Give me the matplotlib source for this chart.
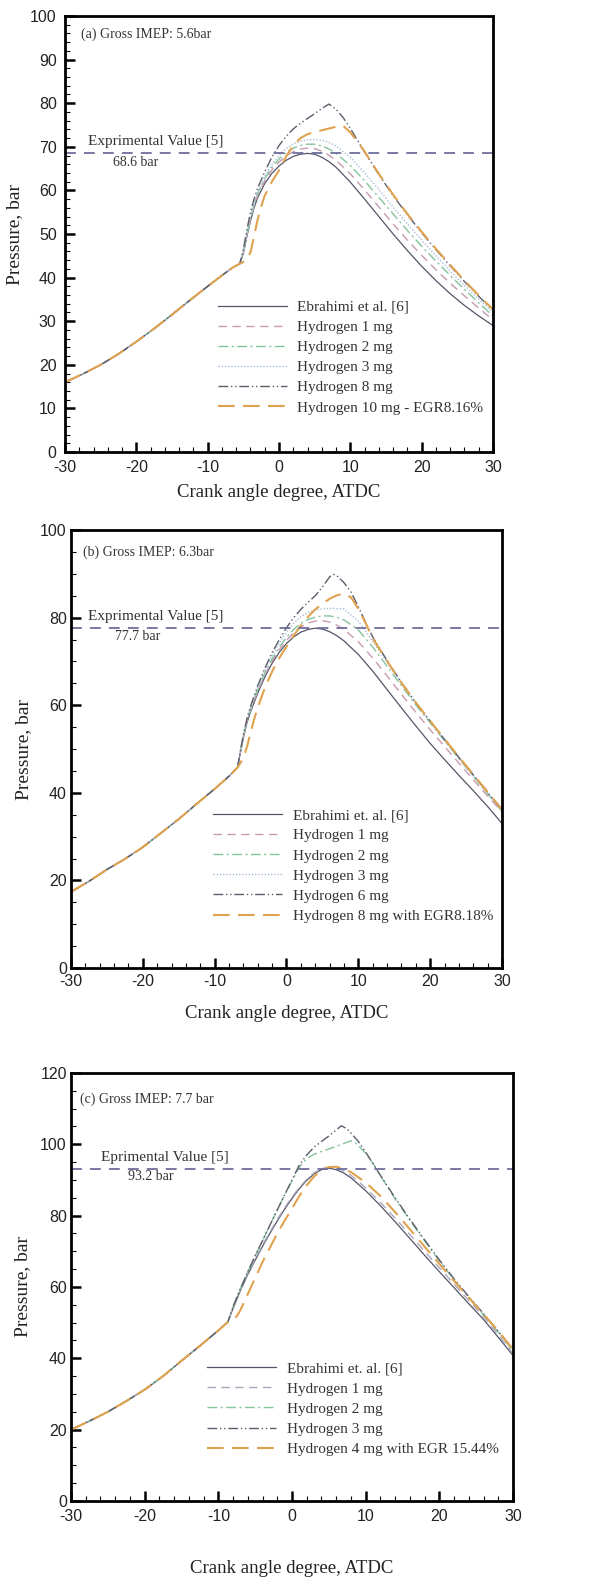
import matplotlib
matplotlib.use("Agg")
import matplotlib.pyplot as plt
from matplotlib.ticker import MultipleLocator

plt.rcParams["axes.unicode_minus"] = False

# ---------------- DATA ----------------
# Panel (a)  Gross IMEP 5.6 bar
comp_a_x = [-30, -27.5, -25, -22.5, -20, -17.5, -15, -12.5, -10, -8, -6.5, -5.5]
comp_a_p = [16.0, 17.9, 20.0, 22.5, 25.3, 28.3, 31.5, 34.8, 38.0, 40.5, 42.3, 43.2]
a_x = [-5, -4.5, -4, -3.5, -3, -2, -1, 0, 1, 2, 3, 4, 5, 6, 7, 8, 10, 12, 14, 16, 18, 20, 22, 24, 26, 28, 30]
ebr_a_p = [45.5, 49.5, 53.0, 56.0, 58.3, 61.6, 63.9, 65.6, 66.9, 67.8, 68.3, 68.5, 68.3, 67.6, 66.6, 65.3, 61.9, 58.0, 54.0, 50.0, 46.2, 42.6, 39.3, 36.3, 33.6, 31.2, 29.0]
h1_a_p = [45.6, 49.7, 53.3, 56.4, 58.8, 62.2, 64.7, 66.5, 67.9, 68.9, 69.5, 69.7, 69.6, 69.0, 68.1, 66.9, 63.8, 60.1, 56.2, 52.3, 48.6, 45.1, 41.8, 38.7, 35.8, 33.0, 30.3]
h2_a_p = [45.7, 49.9, 53.5, 56.7, 59.2, 62.7, 65.3, 67.2, 68.7, 69.7, 70.3, 70.6, 70.6, 70.2, 69.5, 68.5, 65.7, 62.2, 58.4, 54.6, 50.8, 47.2, 43.8, 40.5, 37.3, 34.2, 31.2]
h3_a_p = [45.8, 50.1, 53.8, 57.0, 59.6, 63.2, 65.9, 68.0, 69.6, 70.7, 71.3, 71.6, 71.7, 71.5, 71.0, 70.2, 67.6, 64.0, 60.2, 56.2, 52.3, 48.6, 45.0, 41.5, 38.2, 35.0, 32.0]
h8_a_x = [-5, -4.5, -4, -3.5, -3, -2, -1, 0, 1, 2, 3, 4, 5, 6, 7, 8, 9, 10, 11, 12, 14, 16, 18, 20, 22, 24, 26, 28, 30]
h8_a_p = [46.5, 51.0, 55.0, 58.0, 60.5, 64.3, 67.6, 70.3, 72.4, 74.1, 75.4, 76.5, 77.6, 78.8, 79.8, 78.6, 76.7, 74.2, 71.5, 68.8, 63.6, 58.8, 54.4, 50.3, 46.4, 42.7, 39.1, 35.7, 32.5]
egr_a_x = [-5, -4.5, -4, -3.5, -3, -2.5, -2, -1, 0, 1, 2, 3, 4, 5, 6, 7, 8, 9, 10, 11, 12, 14, 16, 18, 20, 22, 24, 26, 28, 30]
egr_a_p = [43.6, 44.2, 45.8, 49.5, 53.3, 56.3, 58.8, 62.0, 64.6, 67.8, 70.3, 72.0, 72.9, 73.4, 73.8, 74.2, 74.6, 74.8, 73.3, 71.2, 68.9, 63.8, 59.0, 54.6, 50.5, 46.6, 42.9, 39.3, 35.9, 32.7]
labels_a = ["Ebrahimi et al. [6]", "Hydrogen 1 mg", "Hydrogen 2 mg", "Hydrogen 3 mg",
            "Hydrogen 8 mg", "Hydrogen 10 mg - EGR8.16%"]
exp_a = 68.6

# Panel (b)  Gross IMEP 6.3 bar
comp_b_x = [-30, -27.5, -25, -22.5, -20, -17.5, -15, -12.5, -10, -8, -6.8]
comp_b_p = [17.4, 19.8, 22.5, 24.9, 27.6, 30.8, 34.0, 37.5, 40.9, 43.8, 45.8]
b_x = [-6.5, -6, -5.5, -5, -4, -3, -2, -1, 0, 1, 2, 3, 4, 5, 6, 7, 8, 10, 12, 14, 16, 18, 20, 22, 24, 26, 28, 30]
ebr_b_p = [48.5, 52.5, 56.0, 58.5, 62.8, 66.5, 69.6, 72.1, 74.1, 75.6, 76.7, 77.3, 77.6, 77.4, 76.8, 75.9, 74.7, 71.6, 67.8, 63.6, 59.4, 55.3, 51.3, 47.6, 44.0, 40.5, 36.9, 33.0]
h1_b_p = [48.6, 52.7, 56.3, 58.9, 63.3, 67.0, 70.1, 72.7, 74.8, 76.6, 77.9, 78.8, 79.2, 79.3, 79.0, 78.3, 77.3, 74.5, 70.8, 66.7, 62.5, 58.4, 54.4, 50.6, 46.8, 43.0, 39.3, 35.6]
h2_b_p = [48.7, 52.8, 56.5, 59.1, 63.6, 67.4, 70.6, 73.3, 75.5, 77.3, 78.7, 79.6, 80.1, 80.4, 80.4, 80.1, 79.5, 77.2, 73.3, 68.9, 64.5, 60.1, 56.0, 51.9, 47.8, 43.8, 39.8, 35.8]
h3_b_p = [48.8, 53.0, 56.7, 59.4, 64.0, 67.9, 71.3, 74.2, 76.7, 78.7, 80.2, 81.2, 81.7, 82.0, 82.1, 82.1, 82.0, 79.2, 74.6, 69.8, 65.0, 60.5, 56.2, 52.0, 47.9, 43.9, 39.9, 35.9]
h6_b_x = [-6.5, -6, -5.5, -5, -4, -3, -2, -1, 0, 1, 2, 3, 4, 5, 6, 6.5, 7, 8, 9, 10, 11, 12, 14, 16, 18, 20, 22, 24, 26, 28, 30]
h6_b_p = [48.9, 53.3, 57.0, 59.8, 64.5, 68.5, 72.0, 75.0, 77.7, 80.0, 81.9, 83.5, 85.0, 87.0, 89.3, 89.9, 89.6, 88.0, 85.8, 82.5, 79.0, 75.6, 70.2, 65.2, 60.6, 56.4, 52.2, 48.1, 44.1, 40.1, 36.1]
egr_b_x = [-6.5, -6, -5.5, -5, -4.5, -4, -3, -2, -1, 0, 1, 2, 3, 4, 5, 6, 7, 8, 9, 10, 11, 12, 14, 16, 18, 20, 22, 24, 26, 28, 30]
egr_b_p = [46.6, 48.0, 50.5, 53.8, 56.8, 59.5, 64.0, 67.7, 70.8, 73.4, 75.9, 78.2, 80.2, 81.9, 83.2, 84.3, 85.1, 85.5, 84.6, 82.0, 78.8, 75.3, 70.1, 65.1, 60.6, 56.4, 52.3, 48.2, 44.2, 40.2, 36.2]
labels_b = ["Ebrahimi et. al. [6]", "Hydrogen 1 mg", "Hydrogen 2 mg", "Hydrogen 3 mg",
            "Hydrogen 6 mg", "Hydrogen 8 mg with EGR8.18%"]
exp_b = 77.7

# Panel (c)  Gross IMEP 7.7 bar
comp_c_x = [-30, -27.5, -25, -22.5, -20, -17.5, -15, -12.5, -10, -8.7]
comp_c_p = [20.0, 22.4, 25.0, 28.0, 31.2, 35.0, 39.3, 43.5, 47.8, 50.2]
c_x = [-8, -7, -6, -5, -4, -3, -2, -1, 0, 1, 2, 3, 4, 5, 6, 7, 8, 10, 12, 14, 16, 18, 20, 22, 24, 26, 28, 30]
ebr_c_p = [54.0, 59.0, 63.5, 67.5, 71.4, 75.0, 78.5, 81.8, 84.8, 87.6, 89.9, 91.7, 92.9, 93.3, 92.9, 92.0, 90.6, 87.0, 82.8, 78.3, 73.6, 68.9, 64.3, 59.8, 55.3, 50.9, 45.9, 40.8]
h1_c_p = [54.2, 59.3, 63.8, 67.9, 71.8, 75.4, 78.9, 82.2, 85.2, 87.9, 90.2, 92.0, 93.2, 93.6, 93.4, 92.6, 91.3, 87.8, 83.7, 79.3, 74.7, 70.0, 65.4, 60.8, 56.2, 51.7, 46.6, 41.3]
h2_c_x = [-8, -7, -6, -5, -4, -3, -2, -1, 0, 1, 2, 3, 4, 5, 6, 7, 8, 8.5, 9, 10, 11, 12, 14, 16, 18, 20, 22, 24, 26, 28, 30]
h2_c_p = [54.5, 59.5, 64.3, 68.7, 73.0, 77.3, 81.6, 85.8, 89.8, 93.6, 96.0, 97.2, 98.0, 98.7, 99.4, 100.2, 101.0, 100.6, 99.6, 97.5, 94.6, 91.2, 84.7, 78.7, 72.9, 67.3, 62.0, 57.0, 52.2, 47.3, 42.1]
h3_c_x = [-8, -7, -6, -5, -4, -3, -2, -1, 0, 1, 2, 3, 4, 5, 6, 6.7, 7.5, 8, 9, 10, 11, 12, 14, 16, 18, 20, 22, 24, 26, 28, 30]
h3_c_p = [54.5, 59.5, 64.3, 68.7, 73.0, 77.3, 81.6, 85.8, 90.0, 94.2, 97.0, 99.2, 100.8, 102.3, 104.0, 105.2, 104.3, 103.2, 100.8, 97.8, 94.6, 91.3, 85.0, 79.0, 73.2, 67.6, 62.3, 57.3, 52.5, 47.6, 42.4]
egr_c_x = [-8, -7.5, -7, -6, -5, -4, -3, -2, -1, 0, 1, 2, 3, 4, 5, 6, 7, 8, 10, 12, 14, 16, 18, 20, 22, 24, 26, 28, 30]
egr_c_p = [50.8, 51.8, 53.5, 58.0, 62.5, 67.0, 71.0, 75.0, 78.6, 82.0, 85.5, 88.5, 91.0, 92.8, 93.6, 93.7, 93.2, 92.2, 89.3, 85.5, 81.0, 76.2, 71.3, 66.5, 61.7, 57.0, 52.4, 47.6, 42.5]
labels_c = ["Ebrahimi et. al. [6]", "Hydrogen 1 mg", "Hydrogen 2 mg", "Hydrogen 3 mg",
            "Hydrogen 4 mg with EGR 15.44%"]
exp_c = 93.2

# ---------------- STYLE ----------------
SERIF = ["Liberation Serif", "DejaVu Serif"]
SANS = ["Liberation Sans", "DejaVu Sans"]

ST_EBR = dict(color="#55556a", lw=0.9, ls="-")
ST_H1 = dict(color="#c79aae", lw=1.0, ls=(0, (6, 4)))
ST_H1C = dict(color="#a8a8ba", lw=1.0, ls=(0, (6, 4)))
ST_H2 = dict(color="#84c49a", lw=1.0, ls=(0, (7, 2.5, 1.5, 2.5)))
ST_H3 = dict(color="#a9bdd6", lw=1.0, ls=(0, (1, 1.3)))
ST_H8 = dict(color="#5c5c6c", lw=1.0, ls=(0, (7, 2, 1, 2, 1, 2)))
ST_EGR = dict(color="#e0a24e", lw=1.5, ls=(0, (8, 4)))
EXP_COLOR = "#6d6d9c"

fig = plt.figure(figsize=(5.91, 15.87), dpi=100)


def panel(rect, ylim, ymaj, ymin, series, labels, exp, tag, exp_txt, exp_xy,
          val_txt, val_xy, tag_xy, leg_xy, xlab_y, ylab_x, xpad, ypad):
    ax = fig.add_axes(rect)
    comp_x, comp_p = series[0]
    handles = []
    for (xs, ps, st) in series[1:]:
        ln, = ax.plot(list(comp_x) + list(xs), list(comp_p) + list(ps), **st)
        handles.append(ln)
    ax.axhline(exp, color=EXP_COLOR, lw=1.3, ls=(0, (6, 4.5)))
    ax.set_xlim(-30, 30)
    ax.set_ylim(*ylim)
    ax.xaxis.set_major_locator(MultipleLocator(10))
    ax.xaxis.set_minor_locator(MultipleLocator(2))
    ax.yaxis.set_major_locator(MultipleLocator(ymaj))
    ax.yaxis.set_minor_locator(MultipleLocator(ymin))
    ax.tick_params(which="both", direction="in", top=False, right=False)
    ax.tick_params(which="major", length=7, width=1.8)
    ax.tick_params(which="minor", length=3.5, width=0.8)
    ax.tick_params(axis="x", which="major", pad=xpad)
    ax.tick_params(axis="y", which="major", pad=ypad)
    for lab in ax.get_xticklabels() + ax.get_yticklabels():
        lab.set_fontfamily(SANS)
        lab.set_fontsize(11.5)
        lab.set_color("#222222")
    for sp in ax.spines.values():
        sp.set_linewidth(2.0)
    ax.text(tag_xy[0], tag_xy[1], tag, transform=ax.transAxes, family=SERIF,
            fontsize=10, color="#333333", ha="left", va="center")
    ax.text(exp_xy[0], exp_xy[1], exp_txt, family=SERIF, fontsize=11,
            color="#333333", ha="left", va="center")
    ax.text(val_xy[0], val_xy[1], val_txt, family=SERIF, fontsize=10,
            color="#333333", ha="left", va="center")
    leg = ax.legend(handles, labels, loc="upper left", bbox_to_anchor=leg_xy,
                    frameon=False, borderpad=0, borderaxespad=0, handlelength=4.5,
                    handletextpad=0.7, labelspacing=0.42,
                    prop={"family": SERIF, "size": 11})
    for t in leg.get_texts():
        t.set_color("#333333")
    ax.text(0.5, xlab_y, "Crank angle degree, ATDC", transform=ax.transAxes,
            family=SERIF, fontsize=13.5, color="#222222", ha="center", va="center")
    ax.text(ylab_x, 0.5, "Pressure, bar", transform=ax.transAxes, rotation=90,
            family=SERIF, fontsize=14, color="#222222", ha="center", va="center")
    return ax


panel([0.1100, 0.7152, 0.7242, 0.2747], (0, 100), 10, 2,
      [(comp_a_x, comp_a_p),
       (a_x, ebr_a_p, ST_EBR), (a_x, h1_a_p, ST_H1), (a_x, h2_a_p, ST_H2),
       (a_x, h3_a_p, ST_H3), (h8_a_x, h8_a_p, ST_H8), (egr_a_x, egr_a_p, ST_EGR)],
      labels_a, exp_a, "(a) Gross IMEP: 5.6bar", "Exprimental Value [5]", (-26.8, 71.3),
      "68.6 bar", (-23.3, 66.5), (0.037, 0.959), (0.357, 0.348), -0.094, -0.117, 6, 6)

panel([0.1201, 0.3900, 0.7293, 0.2760], (0, 100), 20, 5,
      [(comp_b_x, comp_b_p),
       (b_x, ebr_b_p, ST_EBR), (b_x, h1_b_p, ST_H1), (b_x, h2_b_p, ST_H2),
       (b_x, h3_b_p, ST_H3), (h6_b_x, h6_b_p, ST_H8), (egr_b_x, egr_b_p, ST_EGR)],
      labels_b, exp_b, "(b) Gross IMEP: 6.3bar", "Exprimental Value [5]", (-27.6, 80.3),
      "77.7 bar", (-23.9, 75.6), (0.028, 0.95), (0.33, 0.364), -0.104, -0.11, 4, 3)

panel([0.1201, 0.0542, 0.7479, 0.2697], (0, 120), 20, 5,
      [(comp_c_x, comp_c_p),
       (c_x, ebr_c_p, ST_EBR), (c_x, h1_c_p, ST_H1C), (h2_c_x, h2_c_p, ST_H2),
       (h3_c_x, h3_c_p, ST_H8), (egr_c_x, egr_c_p, ST_EGR)],
      labels_c, exp_c, "(c) Gross IMEP: 7.7 bar", "Eprimental Value [5]", (-25.9, 96.3),
      "93.2 bar", (-22.3, 90.9), (0.02, 0.939), (0.308, 0.325), -0.158, -0.11, 6, 3)

fig.savefig("out.png", dpi=100)
